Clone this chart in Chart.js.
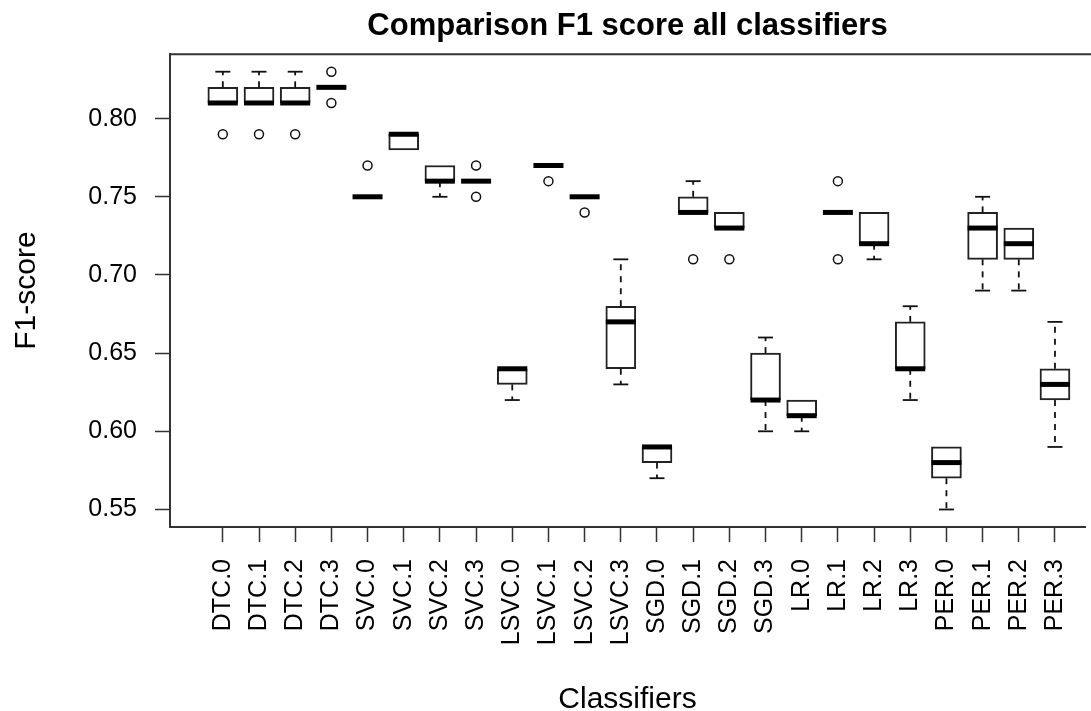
<!DOCTYPE html>
<html>
<head>
<meta charset="utf-8">
<title>Comparison F1 score all classifiers</title>
<script src="https://cdn.jsdelivr.net/npm/chart.js@4"></script>
<style>
    html, body { margin: 0; padding: 0; background: #fff; }
    #wrap { width: 1091px; height: 711px; }
</style>
</head>
<body>
<div id="wrap"><canvas id="f1_chart"></canvas></div>
<script>
// Classifier runs on the x axis
var categories = ['DTC.0', 'DTC.1', 'DTC.2', 'DTC.3', 'SVC.0', 'SVC.1', 'SVC.2', 'SVC.3',
    'LSVC.0', 'LSVC.1', 'LSVC.2', 'LSVC.3', 'SGD.0', 'SGD.1', 'SGD.2', 'SGD.3',
    'LR.0', 'LR.1', 'LR.2', 'LR.3', 'PER.0', 'PER.1', 'PER.2', 'PER.3'];

// Five-number summaries of F1 score per classifier
var whiskerLow = [0.81, 0.81, 0.81, 0.82, 0.75, 0.78, 0.75, 0.76, 0.62, 0.77, 0.75, 0.63,
    0.57, 0.74, 0.73, 0.60, 0.60, 0.74, 0.71, 0.62, 0.55, 0.69, 0.69, 0.59];
var q1 = [0.81, 0.81, 0.81, 0.82, 0.75, 0.78, 0.76, 0.76, 0.63, 0.77, 0.75, 0.64,
    0.58, 0.74, 0.73, 0.62, 0.61, 0.74, 0.72, 0.64, 0.57, 0.71, 0.71, 0.62];
var medians = [0.81, 0.81, 0.81, 0.82, 0.75, 0.79, 0.76, 0.76, 0.64, 0.77, 0.75, 0.67,
    0.59, 0.74, 0.73, 0.62, 0.61, 0.74, 0.72, 0.64, 0.58, 0.73, 0.72, 0.63];
var q3 = [0.82, 0.82, 0.82, 0.82, 0.75, 0.79, 0.77, 0.76, 0.64, 0.77, 0.75, 0.68,
    0.59, 0.75, 0.74, 0.65, 0.62, 0.74, 0.74, 0.67, 0.59, 0.74, 0.73, 0.64];
var whiskerHigh = [0.83, 0.83, 0.83, 0.82, 0.75, 0.79, 0.77, 0.76, 0.64, 0.77, 0.75, 0.71,
    0.59, 0.76, 0.74, 0.66, 0.62, 0.74, 0.74, 0.68, 0.59, 0.75, 0.73, 0.67];
var outliers = [[0.79], [0.79], [0.79], [0.83, 0.81], [0.77], [], [], [0.77, 0.75],
    [], [0.76], [0.74], [], [], [0.71], [0.71], [], [], [0.76, 0.71], [], [], [], [], [], []];

var yTicks = [0.55, 0.60, 0.65, 0.70, 0.75, 0.80];

var axisColor = '#333';
var fontFamily = '"Liberation Sans", Arial, sans-serif';

// Box bodies as floating bars from q1 to q3
var boxData = categories.map(function (c, i) {
    return { x: i + 1, y: [q1[i], q3[i]] };
});

// Outlier points
var outlierData = [];
outliers.forEach(function (list, i) {
    list.forEach(function (v) {
        outlierData.push({ x: i + 1, y: v });
    });
});

// Whiskers, staples and medians drawn through the chart scales
var boxplotExtras = {
    id: 'boxplotExtras',
    afterDatasetsDraw: function (chart) {
        var ctx = chart.ctx;
        var xs = chart.scales.x, ys = chart.scales.y;
        var bars = chart.getDatasetMeta(0).data;
        ctx.save();
        categories.forEach(function (c, i) {
            var cx = xs.getPixelForValue(i + 1);
            var half = bars[i].width / 2;
            var staple = half / 2;

            ctx.strokeStyle = '#111';
            ctx.lineWidth = 1.8;
            ctx.lineCap = 'butt';

            // upper whisker
            if (whiskerHigh[i] > q3[i]) {
                var yTop = ys.getPixelForValue(whiskerHigh[i]);
                ctx.setLineDash([6, 6]);
                ctx.beginPath();
                ctx.moveTo(cx, ys.getPixelForValue(q3[i]));
                ctx.lineTo(cx, yTop);
                ctx.stroke();
                ctx.setLineDash([]);
                ctx.beginPath();
                ctx.moveTo(cx - staple, yTop);
                ctx.lineTo(cx + staple, yTop);
                ctx.stroke();
            }
            // lower whisker
            if (whiskerLow[i] < q1[i]) {
                var yBot = ys.getPixelForValue(whiskerLow[i]);
                ctx.setLineDash([6, 6]);
                ctx.beginPath();
                ctx.moveTo(cx, ys.getPixelForValue(q1[i]));
                ctx.lineTo(cx, yBot);
                ctx.stroke();
                ctx.setLineDash([]);
                ctx.beginPath();
                ctx.moveTo(cx - staple, yBot);
                ctx.lineTo(cx + staple, yBot);
                ctx.stroke();
            }

            // median
            var ym = ys.getPixelForValue(medians[i]);
            ctx.strokeStyle = '#000';
            ctx.lineWidth = 5;
            ctx.beginPath();
            ctx.moveTo(cx - half, ym);
            ctx.lineTo(cx + half, ym);
            ctx.stroke();
        });

        // top edge of the plot frame
        var area = chart.chartArea;
        ctx.strokeStyle = axisColor;
        ctx.lineWidth = 2;
        ctx.beginPath();
        ctx.moveTo(area.left, area.top);
        ctx.lineTo(chart.width, area.top);
        ctx.stroke();
        ctx.restore();
    }
};

var chartCtx = document.getElementById('f1_chart').getContext('2d');
new Chart(chartCtx, {
    type: 'bar',
    data: {
        datasets: [{
            data: boxData,
            backgroundColor: '#fff',
            borderColor: '#222',
            borderWidth: 2,
            borderSkipped: false,
            barThickness: 30,
            order: 2
        }, {
            type: 'scatter',
            data: outlierData,
            pointStyle: 'circle',
            pointRadius: 4.5,
            backgroundColor: '#fff',
            borderColor: '#111',
            borderWidth: 1.5,
            order: 1
        }]
    },
    options: {
        responsive: true,
        maintainAspectRatio: false,
        animation: false,
        layout: { padding: { left: 0, right: 0, top: 0, bottom: 0 } },
        plugins: {
            legend: { display: false },
            tooltip: { enabled: false },
            title: {
                display: true,
                text: 'Comparison F1 score all classifiers',
                fullSize: false,
                color: '#000',
                font: { family: fontFamily, size: 31, weight: 'bold', lineHeight: 1.2 },
                padding: { top: 8, bottom: 9 }
            }
        },
        scales: {
            x: {
                type: 'linear',
                offset: false,
                min: -0.46,
                max: 24.83,
                afterBuildTicks: function (scale) {
                    scale.ticks = categories.map(function (c, i) { return { value: i + 1 }; });
                },
                afterFit: function (scale) {
                    scale.height = 184;
                    scale.paddingLeft = 0;
                    scale.paddingRight = 0;
                },
                ticks: {
                    autoSkip: false,
                    minRotation: 90,
                    maxRotation: 90,
                    padding: 17,
                    color: '#000',
                    font: { family: fontFamily, size: 25 },
                    callback: function (value) { return categories[value - 1]; }
                },
                grid: {
                    offset: false,
                    drawOnChartArea: false,
                    drawTicks: true,
                    tickLength: 15,
                    tickColor: axisColor,
                    tickWidth: 1.5
                },
                border: { display: true, color: axisColor, width: 2 },
                title: {
                    display: true,
                    text: 'Classifiers',
                    color: '#000',
                    font: { family: fontFamily, size: 30, lineHeight: 0.75 },
                    padding: { top: 0, bottom: 0 }
                }
            },
            y: {
                min: 0.5388,
                max: 0.8412,
                afterBuildTicks: function (scale) {
                    scale.ticks = yTicks.map(function (v) { return { value: v }; });
                },
                afterFit: function (scale) {
                    scale.width = 170;
                    scale.paddingTop = 0;
                    scale.paddingBottom = 0;
                },
                ticks: {
                    padding: 18,
                    color: '#000',
                    font: { family: fontFamily, size: 25 },
                    callback: function (value) { return Number(value).toFixed(2); }
                },
                grid: {
                    drawOnChartArea: false,
                    drawTicks: true,
                    tickLength: 15,
                    tickColor: axisColor,
                    tickWidth: 1.5
                },
                border: { display: true, color: axisColor, width: 2 },
                title: {
                    display: true,
                    text: 'F1-score',
                    color: '#000',
                    font: { family: fontFamily, size: 30, lineHeight: 1 },
                    padding: { top: 12, bottom: 0 }
                }
            }
        }
    },
    plugins: [boxplotExtras]
});
</script>
</body>
</html>
